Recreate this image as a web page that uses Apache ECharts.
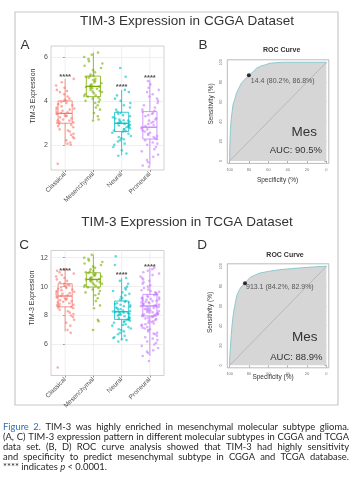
<!DOCTYPE html>
<html>
<head>
<meta charset="utf-8">
<title>TIM-3 Expression</title>
<script src="https://cdn.jsdelivr.net/npm/echarts@6/dist/echarts.min.js"></script>
<style>html,body{margin:0;padding:0;background:#fff}#chart{width:354px;height:485px}</style>
</head>
<body>
<div id="chart"></div>
<script>
var subtypes = ['Classical', 'Mesenchymal', 'Neural', 'Proneural'];
var colors = ['#F8766D', '#7CAE00', '#00BFC4', '#C77CFF'];

// CGGA: TIM-3 expression per sample
var cggaClassical = [1.13, 2.0, 2.05, 2.1, 2.2, 2.3, 2.35, 2.45, 2.5, 2.6, 2.65, 2.7, 2.8, 2.85, 2.9, 2.95, 3.0, 3.02, 3.05, 3.1, 3.12, 3.15, 3.2, 3.25, 3.3, 3.32, 3.35, 3.4, 3.42, 3.45, 3.48, 3.5, 3.55, 3.6, 3.62, 3.65, 3.7, 3.75, 3.8, 3.85, 3.9, 3.95, 4.0, 4.05, 4.1, 4.2, 4.3, 4.4, 4.45, 4.5, 4.6, 4.7, 4.85, 5.0];
var cggaMesenchymal = [3.1, 3.15, 3.3, 3.45, 3.6, 3.7, 3.8, 3.9, 3.95, 4.0, 4.05, 4.1, 4.15, 4.2, 4.22, 4.25, 4.3, 4.35, 4.4, 4.42, 4.45, 4.5, 4.55, 4.58, 4.6, 4.63, 4.65, 4.68, 4.7, 4.75, 4.8, 4.85, 4.9, 4.95, 5.0, 5.05, 5.1, 5.12, 5.15, 5.2, 5.3, 5.4, 5.5, 5.6, 5.7, 5.8, 5.9, 6.0, 6.1, 6.2];
var cggaNeural = [1.5, 1.6, 1.75, 1.9, 2.0, 2.05, 2.15, 2.2, 2.25, 2.3, 2.35, 2.4, 2.5, 2.55, 2.6, 2.62, 2.65, 2.7, 2.72, 2.75, 2.8, 2.82, 2.85, 2.88, 2.9, 2.92, 2.95, 2.98, 3.0, 3.02, 3.05, 3.08, 3.1, 3.12, 3.15, 3.2, 3.25, 3.3, 3.35, 3.4, 3.45, 3.5, 3.6, 3.7, 3.8, 3.9, 4.0, 4.1, 4.25, 4.4, 4.5, 5.1, 5.5];
var cggaProneural = [1.0, 1.05, 1.2, 1.3, 1.45, 1.55, 1.7, 1.8, 1.9, 2.0, 2.05, 2.1, 2.2, 2.25, 2.3, 2.35, 2.4, 2.45, 2.5, 2.55, 2.6, 2.65, 2.7, 2.75, 2.8, 2.85, 2.9, 2.95, 3.0, 3.05, 3.1, 3.15, 3.2, 3.3, 3.35, 3.4, 3.45, 3.5, 3.55, 3.6, 3.7, 3.8, 3.9, 4.0, 4.1, 4.2, 4.3, 4.4, 4.5, 4.6, 4.75, 4.9];

// TCGA: TIM-3 expression per sample
var tcgaClassical = [4.4, 6.8, 7.0, 7.3, 7.5, 7.7, 7.9, 8.0, 8.1, 8.2, 8.3, 8.4, 8.5, 8.55, 8.6, 8.65, 8.7, 8.75, 8.8, 8.85, 8.9, 8.95, 9.0, 9.05, 9.1, 9.15, 9.2, 9.25, 9.3, 9.35, 9.4, 9.45, 9.5, 9.55, 9.6, 9.65, 9.7, 9.75, 9.8, 9.85, 9.9, 9.95, 10.0, 10.05, 10.1, 10.15, 10.2, 10.3, 10.4, 10.5, 10.6, 10.7, 10.8, 10.9, 11.0, 11.1, 11.2];
var tcgaMesenchymal = [7.0, 7.6, 7.7, 8.5, 8.7, 9.0, 9.2, 9.4, 9.5, 9.6, 9.7, 9.8, 9.9, 9.95, 10.0, 10.05, 10.1, 10.15, 10.2, 10.25, 10.3, 10.35, 10.4, 10.42, 10.45, 10.5, 10.52, 10.55, 10.6, 10.65, 10.7, 10.75, 10.8, 10.85, 10.9, 10.95, 11.0, 11.05, 11.1, 11.2, 11.3, 11.4, 11.5, 11.6, 11.7, 11.8, 11.9, 12.0, 12.2];
var tcgaNeural = [6.2, 6.3, 6.35, 6.45, 6.5, 6.6, 6.7, 6.8, 6.9, 7.0, 7.05, 7.1, 7.2, 7.3, 7.35, 7.4, 7.5, 7.55, 7.6, 7.65, 7.7, 7.72, 7.75, 7.8, 7.85, 7.9, 7.95, 8.0, 8.02, 8.05, 8.1, 8.12, 8.15, 8.2, 8.22, 8.25, 8.28, 8.3, 8.35, 8.4, 8.45, 8.5, 8.55, 8.6, 8.65, 8.7, 8.75, 8.8, 8.85, 8.9, 8.95, 9.0, 9.1, 9.2, 9.3, 9.4, 9.5, 9.6, 9.7, 9.8, 9.9, 10.0, 10.2, 10.4, 10.6, 11.5, 12.1];
var tcgaProneural = [4.85, 5.2, 5.4, 5.5, 5.6, 5.75, 5.9, 6.0, 6.1, 6.2, 6.3, 6.4, 6.5, 6.6, 6.7, 6.75, 6.8, 6.9, 7.0, 7.05, 7.1, 7.15, 7.2, 7.3, 7.35, 7.4, 7.45, 7.5, 7.55, 7.6, 7.65, 7.7, 7.75, 7.8, 7.85, 7.9, 7.92, 7.95, 8.0, 8.02, 8.05, 8.08, 8.1, 8.12, 8.15, 8.2, 8.22, 8.25, 8.3, 8.32, 8.35, 8.4, 8.42, 8.45, 8.5, 8.52, 8.55, 8.6, 8.62, 8.65, 8.68, 8.7, 8.72, 8.75, 8.8, 8.82, 8.85, 8.9, 8.92, 8.95, 9.0, 9.02, 9.05, 9.1, 9.12, 9.15, 9.2, 9.22, 9.25, 9.3, 9.35, 9.4, 9.45, 9.5, 9.55, 9.6, 9.65, 9.7, 9.75, 9.8, 9.9, 10.0, 10.1, 10.2, 10.3, 10.4, 10.5, 10.6, 10.7, 10.8, 10.9, 11.0, 11.1, 11.2, 11.3];

// box stats: [low whisker, q1, median, q3, high whisker]
var cggaBox = [[2.0, 2.98, 3.43, 4.0, 5.0], [3.17, 4.19, 4.66, 5.13, 6.2], [1.52, 2.6, 2.98, 3.48, 4.5], [1.05, 2.26, 2.8, 3.51, 4.97]];
var tcgaBox = [[6.9, 8.6, 9.35, 10.2, 11.3], [8.66, 9.97, 10.5, 10.96, 12.2], [6.35, 7.73, 8.26, 9.0, 10.6], [5.2, 7.97, 8.66, 9.46, 11.3]];
var cggaStars = [5.2, null, 4.73, 5.13];
var tcgaStars = [11.2, null, 10.96, 11.5];
var cggaTicks = [2, 4, 6];
var tcgaTicks = [6, 8, 10, 12];

// ROC curves: [specificity %, sensitivity %]
var rocCgga = [[100, 0], [100, 10], [99.6, 22], [99.2, 33], [98.5, 42], [97.5, 50], [96.6, 57], [95, 62], [93, 68.6], [91, 73], [88, 78.7], [85, 82], [82, 85], [80.2, 86.8], [78, 88.5], [75, 91], [72.4, 94], [68, 96], [63, 97.5], [58.6, 99], [52, 99.5], [45, 100], [0, 100]];
var rocTcga = [[100, 0], [100, 8], [99.3, 17.5], [98.5, 30], [97.5, 41], [96.5, 50], [95.2, 58], [93.8, 65], [92.4, 71.3], [89, 78], [86.5, 81], [84.2, 82.9], [82, 85.5], [78.7, 88.9], [74, 91], [68.5, 93.2], [60, 94.8], [48, 96.6], [36, 97.6], [24, 98.6], [12, 99.4], [0, 100]];
var diagLine = [[100, 0], [0, 100]];
var cutCgga = [14.4, 80.2, 86.8];
var cutTcga = [913.1, 84.2, 82.9];
var aucCgga = '90.5%';
var aucTcga = '88.9%';
var rocTicks = [0, 20, 40, 60, 80, 100];

var captionLines = [
    'Figure 2. TIM-3 was highly enriched in mesenchymal molecular subtype glioma.',
    '(A, C) TIM-3 expression pattern in different molecular subtypes in CGGA and TCGA',
    'data set. (B, D) ROC curve analysis showed that TIM-3 had highly sensitivity',
    'and specificity to predict mesenchymal subtype in CGGA and TCGA database.',
    '**** indicates p < 0.0001.'
];

var FONT = 'Liberation Sans, Arial, sans-serif';

// horizontal jitter: fixed hash of the point index, like geom_jitter
function jitter(vals, k) {
    return vals.map(function (v, i) {
        var s = Math.sin((i + 1) * 127.1 + (k + 1) * 311.7) * 43758.5453;
        var f = s - Math.floor(s);
        return [k + (f - 0.5) * 0.66, v];
    });
}

function renderBox(params, api) {
    var x = api.value(0);
    var lo = api.coord([x, api.value(1)]);
    var q1 = api.coord([x, api.value(2)]);
    var md = api.coord([x, api.value(3)]);
    var q3 = api.coord([x, api.value(4)]);
    var hi = api.coord([x, api.value(5)]);
    var half = api.size([0.25, 0])[0];
    var cs = params.coordSys;
    var c = colors[x];
    return {
        type: 'group',
        children: [
            {type: 'line', z2: -10, shape: {x1: lo[0], y1: cs.y, x2: lo[0], y2: cs.y + cs.height}, style: {stroke: '#ebebeb', lineWidth: 0.8}},
            {type: 'line', shape: {x1: lo[0], y1: lo[1], x2: q1[0], y2: q1[1]}, style: {stroke: c, lineWidth: 0.8}},
            {type: 'line', shape: {x1: q3[0], y1: q3[1], x2: hi[0], y2: hi[1]}, style: {stroke: c, lineWidth: 0.8}},
            {type: 'rect', shape: {x: q3[0] - half, y: q3[1], width: half * 2, height: q1[1] - q3[1]}, style: {stroke: c, fill: 'none', lineWidth: 0.8}},
            {type: 'line', shape: {x1: md[0] - half, y1: md[1], x2: md[0] + half, y2: md[1]}, style: {stroke: c, lineWidth: 1.3}}
        ]
    };
}

function boxData(stats) {
    return stats.map(function (s, i) { return [i].concat(s); });
}

function starData(stars) {
    var out = [];
    stars.forEach(function (v, i) { if (v != null) out.push([i, v]); });
    return out;
}

function boxSeries(xi, yi, stats, groups, stars) {
    var list = [{
        type: 'custom', xAxisIndex: xi, yAxisIndex: yi, renderItem: renderBox,
        data: boxData(stats), z: 1, silent: true
    }];
    groups.forEach(function (g, k) {
        list.push({
            type: 'scatter', xAxisIndex: xi, yAxisIndex: yi, data: jitter(g, k),
            symbolSize: 2.6, itemStyle: {color: colors[k], opacity: 0.6}, z: 2, silent: true
        });
    });
    list.push({
        type: 'scatter', xAxisIndex: xi, yAxisIndex: yi, data: starData(stars),
        symbolSize: 0, z: 3, silent: true,
        label: {show: true, position: 'inside', formatter: '****', fontSize: 7.5, fontWeight: 'bold', color: '#222', offset: [0, 2], fontFamily: FONT}
    });
    return list;
}

function rocSeries(xi, yi, curve, cut, off) {
    return [{
        type: 'line', xAxisIndex: xi, yAxisIndex: yi, data: curve, showSymbol: false,
        lineStyle: {color: '#8cc9cf', width: 1}, areaStyle: {color: '#d6d6d6', opacity: 1}, z: 1, silent: true
    }, {
        type: 'line', xAxisIndex: xi, yAxisIndex: yi, data: diagLine, showSymbol: false,
        lineStyle: {color: '#b0b0b0', width: 0.8}, z: 2, silent: true
    }, {
        type: 'scatter', xAxisIndex: xi, yAxisIndex: yi, data: [[cut[1], cut[2]]],
        symbolSize: 4, itemStyle: {color: '#000'}, z: 3, silent: true,
        label: {
            show: true, position: 'right', distance: 0, offset: off, fontSize: 7, color: '#333', fontFamily: FONT,
            formatter: cut[0] + ' (' + cut[1] + '%, ' + cut[2] + '%)'
        }
    }];
}

function catAxis(gi) {
    return {
        type: 'category', gridIndex: gi, data: subtypes,
        axisLine: {show: false}, axisTick: {show: true, alignWithLabel: true, length: 2, lineStyle: {color: '#555', width: 0.6}},
        axisLabel: {rotate: 45, fontSize: 6.5, color: '#4d4d4d', margin: 3, fontFamily: FONT},
        splitLine: {show: false}
    };
}
function hiddenX(gi) {
    return {type: 'value', gridIndex: gi, min: -0.5, max: 3.5, show: false};
}
function exprY(gi, min, max, ticks) {
    return {
        type: 'value', gridIndex: gi, min: min, max: max,
        axisLine: {show: false},
        axisTick: {show: true, length: 2, customValues: ticks, lineStyle: {color: '#555', width: 0.6}},
        axisLabel: {fontSize: 7, color: '#4d4d4d', margin: 3, customValues: ticks, fontFamily: FONT},
        splitLine: {show: true, lineStyle: {color: '#ebebeb', width: 0.8}}
    };
}
function rocX(gi) {
    return {
        type: 'value', gridIndex: gi, inverse: true, min: -2.5, max: 102.5,
        axisLine: {show: false},
        axisTick: {show: true, length: 2, customValues: rocTicks, lineStyle: {color: '#777', width: 0.6}},
        axisLabel: {fontSize: 4, color: '#777', margin: 4, customValues: rocTicks, fontFamily: FONT},
        splitLine: {show: false}
    };
}
function rocY(gi) {
    return {
        type: 'value', gridIndex: gi, min: -2.5, max: 102.5,
        axisLine: {show: false},
        axisTick: {show: true, length: 2, customValues: rocTicks, lineStyle: {color: '#777', width: 0.6}},
        axisLabel: {fontSize: 4, color: '#777', margin: 4, rotate: 90, customValues: rocTicks, fontFamily: FONT},
        splitLine: {show: false}
    };
}

function txt(x, y, text, size, extra) {
    var st = {text: text, fontSize: size, fontFamily: FONT, fill: '#333', align: 'center', verticalAlign: 'middle'};
    for (var k in extra || {}) st[k] = extra[k];
    return {type: 'text', x: x, y: y, style: st, z: 10};
}
function vtxt(x, y, text, size) {
    return {type: 'text', x: x, y: y, rotation: Math.PI / 2, style: {text: text, fontSize: size, fontFamily: FONT, fill: '#333', align: 'center', verticalAlign: 'middle'}, z: 10};
}

// caption, justified word by word
var CAP_FONT = 'Lato, "Open Sans", sans-serif';
var CAP_LEFT = 3, CAP_WIDTH = 346, CAP_TOP = 426.7, CAP_STEP = 10;
var measure = document.createElement('canvas').getContext('2d');
function wordW(w, size, italic) {
    measure.font = (italic ? 'italic ' : '') + size + 'px ' + CAP_FONT;
    return measure.measureText(w).width;
}
var capSize = 9.4;
(function fit() {
    for (var guard = 0; guard < 30; guard++) {
        var ok = captionLines.slice(0, 4).every(function (line) {
            var ws = line.split(' ');
            var sum = ws.reduce(function (a, w) { return a + wordW(w, capSize); }, 0);
            return sum + (ws.length - 1) * wordW(' ', capSize) * 0.85 <= CAP_WIDTH;
        });
        if (ok) break;
        capSize -= 0.1;
    }
})();
var captionEls = [];
captionLines.forEach(function (line, li) {
    var ws = line.split(' ');
    var widths = ws.map(function (w, wi) { return wordW(w, capSize, li === 4 && w === 'p'); });
    var sum = widths.reduce(function (a, b) { return a + b; }, 0);
    var gap = li < 4 ? (CAP_WIDTH - sum) / (ws.length - 1) : wordW(' ', capSize);
    var x = CAP_LEFT;
    ws.forEach(function (w, wi) {
        var blue = li === 0 && wi < 2;
        var italic = li === 4 && w === 'p';
        captionEls.push({
            type: 'text', x: x, y: CAP_TOP + li * CAP_STEP, z: 10,
            style: {
                text: w, fontSize: capSize, fontFamily: CAP_FONT, fontStyle: italic ? 'italic' : 'normal',
                fill: blue ? '#2f6db3' : '#231f20', align: 'left', verticalAlign: 'middle'
            }
        });
        x += widths[wi] + gap;
    });
});

var chart = echarts.init(document.getElementById('chart'), null, {renderer: 'canvas'});
var option = {
    animation: false,
    backgroundColor: '#fff',
    grid: [
        {left: 51, top: 46, width: 113, height: 124, show: true, borderColor: '#c4c4c4', borderWidth: 0.8, backgroundColor: '#fff'},
        {left: 227.3, top: 59.8, width: 101.5, height: 103.6, show: true, borderColor: '#a8a8a8', borderWidth: 0.8},
        {left: 51, top: 250.5, width: 113, height: 125, show: true, borderColor: '#c4c4c4', borderWidth: 0.8, backgroundColor: '#fff'},
        {left: 227.3, top: 263.8, width: 101.5, height: 104, show: true, borderColor: '#a8a8a8', borderWidth: 0.8}
    ],
    xAxis: [catAxis(0), hiddenX(0), rocX(1), catAxis(2), hiddenX(2), rocX(3)],
    yAxis: [exprY(0, 0.85, 6.5, cggaTicks), rocY(1), exprY(2, 3.85, 12.5, tcgaTicks), rocY(3)],
    series: [].concat(
        boxSeries(1, 0, cggaBox, [cggaClassical, cggaMesenchymal, cggaNeural, cggaProneural], cggaStars),
        rocSeries(2, 1, rocCgga, cutCgga, [0, 6]),
        boxSeries(4, 2, tcgaBox, [tcgaClassical, tcgaMesenchymal, tcgaNeural, tcgaProneural], tcgaStars),
        rocSeries(5, 3, rocTcga, cutTcga, [-1, 4])
    ),
    graphic: [
        {type: 'rect', shape: {x: 15, y: 12, width: 323, height: 393}, style: {fill: 'none', stroke: '#c8c8c8', lineWidth: 1.2}, z: 0},
        txt(187, 21.7, 'TIM-3 Expression in CGGA Dataset', 13.5),
        txt(187, 222, 'TIM-3 Expression in TCGA Dataset', 13.5),
        txt(25, 45, 'A', 13.5),
        txt(203, 45, 'B', 13.5),
        txt(24, 245, 'C', 13.5),
        txt(202, 245, 'D', 13.5),
        vtxt(33, 96, 'TIM-3 Expression', 7),
        vtxt(31.7, 298, 'TIM-3 Expression', 7),
        txt(281.7, 50, 'ROC Curve', 7, {fontWeight: 'bold'}),
        txt(285, 255, 'ROC Curve', 7, {fontWeight: 'bold'}),
        vtxt(211.5, 104, 'Sensitivity (%)', 6.5),
        vtxt(210.7, 312.5, 'Sensitivity (%)', 6.5),
        txt(277.5, 180.7, 'Specificity (%)', 6.5),
        txt(273, 377.3, 'Specificity (%)', 6.5),
        txt(317, 132.3, 'Mes', 13.5, {align: 'right'}),
        txt(322, 150.7, 'AUC: ' + aucCgga, 9.5, {align: 'right'}),
        txt(317.5, 337, 'Mes', 13.5, {align: 'right'}),
        txt(322.5, 357, 'AUC: ' + aucTcga, 9.5, {align: 'right'})
    ].concat(captionEls)
};
chart.setOption(option);
</script>
</body>
</html>
